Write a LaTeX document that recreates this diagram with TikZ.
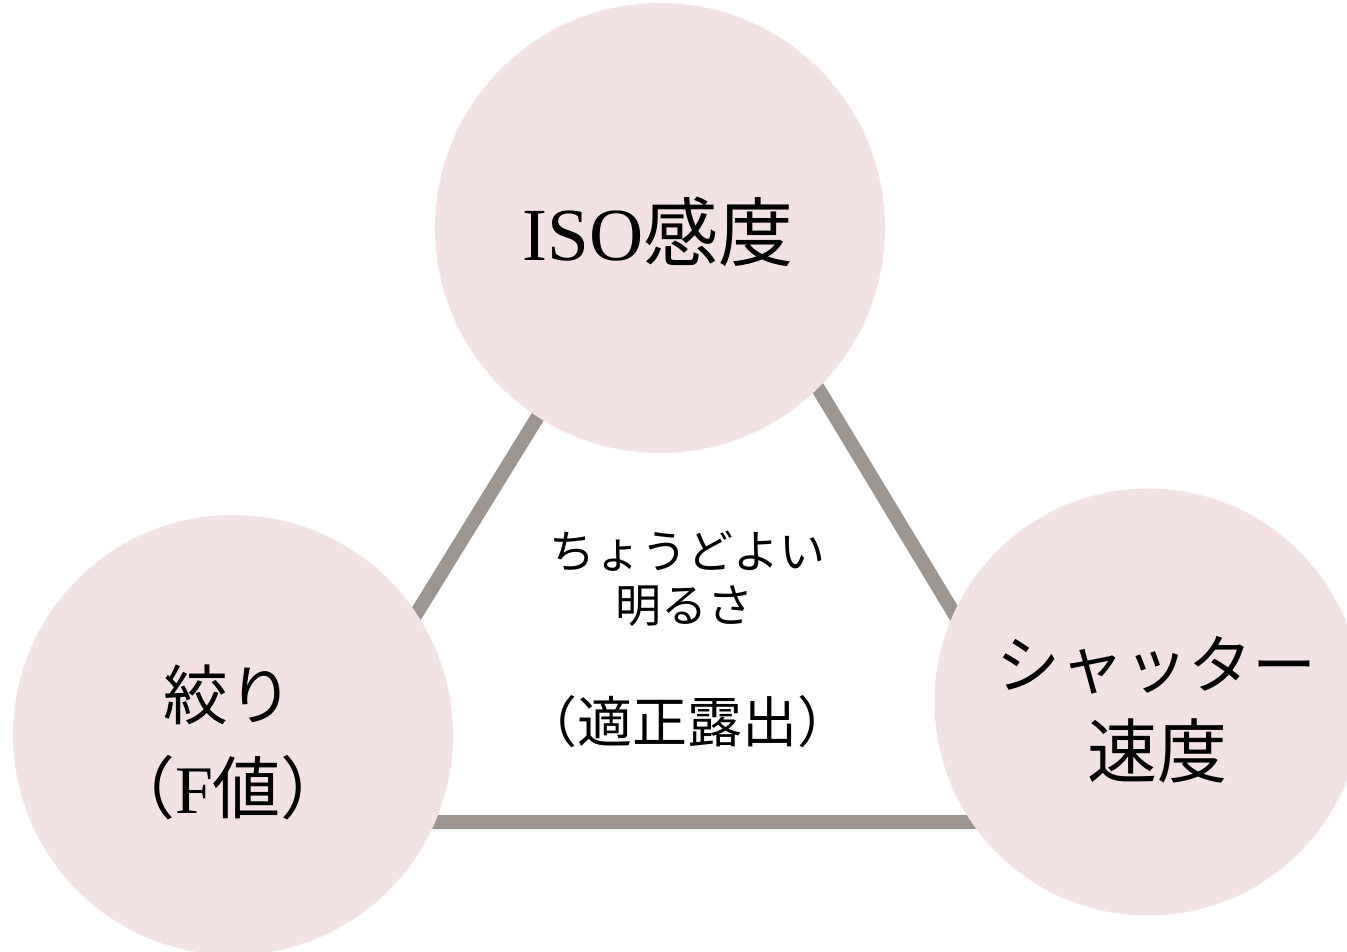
\documentclass[tikz,border=0pt]{standalone}
\usepackage{fontspec}
\setmainfont{Liberation Serif}
\newfontfamily\cjk{Noto Sans CJK JP}
\definecolor{circfill}{RGB}{242,226,227}
\definecolor{linegray}{RGB}{157,149,143}
\tikzset{
  bubble/.style={circle, fill=circfill, draw=none, inner sep=0pt},
  edge/.style={draw=linegray, line width=14bp},
  lbl/.style={align=center, inner sep=0pt, text=black}
}
\begin{document}
\begin{tikzpicture}[x=1bp, y=-1bp]
\useasboundingbox (0,0) rectangle (1347,951);
% triangle corners (hidden under circles)
\coordinate (A) at (688,173);
\coordinate (B) at (288,822);
\coordinate (C) at (1080,822);
\draw[edge] (A) -- (B) -- (C) -- cycle;
% circles
\node[bubble, minimum size=450bp] (iso) at (660,228) {};
\node[bubble, minimum size=440bp] (fval) at (233,735) {};
\node[bubble, minimum size=427bp] (shut) at (1148,702) {};
% labels
\node[lbl, font=\fontsize{75bp}{80bp}\selectfont] (isot) at (658,232) {ISO{\cjk 感度}};
\node[lbl, font=\fontsize{65bp}{70bp}\selectfont\cjk] (fv1) at (228,695) {絞り};
\node[lbl, font=\fontsize{68bp}{70bp}\selectfont] (fv2) at (228,788) {{\cjk （}F{\cjk 値）}};
\node[lbl, font=\fontsize{64bp}{70bp}\selectfont\cjk] (sh1) at (1156,665) {シャッター};
\node[lbl, font=\fontsize{70bp}{75bp}\selectfont\cjk] (sh2) at (1157,751) {速度};
\node[lbl, font=\fontsize{46bp}{50bp}\selectfont\cjk] (c1) at (687,551) {ちょうどよい};
\node[lbl, font=\fontsize{46bp}{50bp}\selectfont\cjk] (c2) at (684,606) {明るさ};
\node[lbl, font=\fontsize{55bp}{60bp}\selectfont\cjk] (c3) at (687,722) {（適正露出）};
\end{tikzpicture}
\end{document}
